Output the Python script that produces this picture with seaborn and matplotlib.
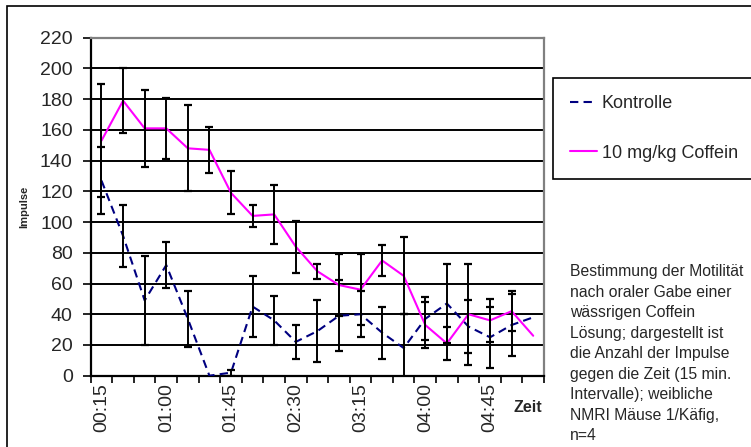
"""
Motility of NMRI mice after oral caffeine: impulses over time with error bars.
"""

import numpy as np
import pandas as pd
import matplotlib
matplotlib.use("Agg")
import matplotlib.pyplot as plt
from matplotlib.patches import Rectangle
import seaborn as sns

times = ["00:15", "00:30", "00:45", "01:00", "01:15", "01:30", "01:45",
         "02:00", "02:15", "02:30", "02:45", "03:00", "03:15", "03:30",
         "03:45", "04:00", "04:15", "04:30", "04:45", "05:00", "05:15"]
kontrolle = [127, 91, 49, 72, 37, 0, 2, 45, 36, 22, 29, 39, 40, 28, 18, 37, 47, 32, 25, 33, 38]
kontrolle_err = [22, 20, 29, 15, 18, 0, 2, 20, 16, 11, 20, 23, 15, 17, 22, 14, 26, 17, 20, 20, 0]
coffein = [153, 179, 161, 161, 148, 147, 119, 104, 105, 84, 68, 59, 56, 75, 65, 33, 21, 40, 36, 42, 26]
coffein_err = [37, 21, 25, 20, 28, 15, 14, 7, 19, 17, 5, 20, 23, 10, 25, 15, 11, 33, 14, 13, 0]
series_names = ["Kontrolle", "10 mg/kg Coffein"]
y_ticks = list(range(0, 221, 20))
label_every = 3

note = ("Bestimmung der Motilität\nnach oraler Gabe einer\nwässrigen Coffein\n"
        "Lösung; dargestellt ist\ndie Anzahl der Impulse\ngegen die Zeit (15 min.\n"
        "Intervalle); weibliche\nNMRI Mäuse 1/Käfig,\nn=4")

sns.set_theme(style="white")
plt.rcParams["font.family"] = ["Liberation Sans", "DejaVu Sans"]

idx = np.arange(len(times))
df = pd.DataFrame({
    "t": np.concatenate([idx, idx]),
    "Impulse": kontrolle + coffein,
    "Serie": [series_names[0]] * len(idx) + [series_names[1]] * len(idx),
})

W, H = 751, 447
fig = plt.figure(figsize=(W / 100, H / 100), dpi=100)
ax = fig.add_axes([90.7 / W, 1 - 375.7 / H, (544 - 90.7) / W, (375.7 - 37.7) / H])

# outer chart frame
fig.patches.append(Rectangle((7 / W, -0.01), 1.0, 1 - 6 / H + 0.01, transform=fig.transFigure,
                             fill=False, edgecolor="black", linewidth=1.2))

ax.yaxis.grid(True, color="black", linewidth=1.4)
ax.set_axisbelow(True)

sns.lineplot(data=df, x="t", y="Impulse", hue="Serie", style="Serie",
             hue_order=series_names, style_order=series_names,
             palette={series_names[0]: "#000080", series_names[1]: "#FF00FF"},
             dashes={series_names[0]: (4, 2.5), series_names[1]: ""},
             linewidth=1.5, legend=True, ax=ax, zorder=3)

for vals, errs in [(kontrolle, kontrolle_err), (coffein, coffein_err)]:
    vals = np.array(vals, dtype=float)
    errs = np.array(errs, dtype=float)
    sel = errs > 0
    ax.errorbar(idx[sel], vals[sel], yerr=errs[sel], fmt="none", ecolor="black",
                elinewidth=1.4, capsize=2.6, capthick=1.6, zorder=4, clip_on=True)

ax.set_xlim(-0.5, len(times) - 0.5)
ax.set_ylim(0, 220)
ax.set_yticks(y_ticks)
ax.set_yticklabels([str(v) for v in y_ticks], fontsize=14)
ax.set_xticks(idx[::label_every])
ax.set_xticklabels(times[::label_every], rotation=90, fontsize=14)
ax.set_xticks(np.arange(-0.5, len(times)), minor=True)
ax.tick_params(axis="x", which="major", length=0, pad=5)
ax.tick_params(axis="x", which="minor", bottom=True, length=5, width=1.2, color="black", direction="out")
ax.tick_params(axis="y", left=True, length=6, width=1.2, color="black", direction="out", pad=7)

for side in ["left", "bottom"]:
    ax.spines[side].set_color("black")
    ax.spines[side].set_linewidth(1.6)
for side in ["top", "right"]:
    ax.spines[side].set_color("#808080")
    ax.spines[side].set_linewidth(1.6)

ax.set_xlabel("")
ax.set_ylabel("Impulse", fontsize=8, fontweight="bold", labelpad=8)
fig.text(542 / W, 1 - 407 / H, "Zeit", fontsize=11.5, fontweight="bold", ha="right", va="center")

handles, labels = ax.get_legend_handles_labels()
ax.get_legend().remove()
leg = fig.legend(handles, labels, loc="upper left",
                 bbox_to_anchor=(553 / W, 1 - 78 / H), borderaxespad=0,
                 fontsize=13, frameon=True, fancybox=False, borderpad=0.95,
                 labelspacing=1.8, handlelength=1.5, handletextpad=0.25)
leg.get_frame().set_edgecolor("black")
leg.get_frame().set_linewidth(1.2)
leg.get_frame().set_alpha(1)
for h in leg.get_lines():
    h.set_linewidth(1.5)

fig.text(570 / W, 1 - 264 / H, note, fontsize=11.3, ha="left", va="top", linespacing=1.46)

fig.savefig("out.png", dpi=100)
plt.close(fig)
